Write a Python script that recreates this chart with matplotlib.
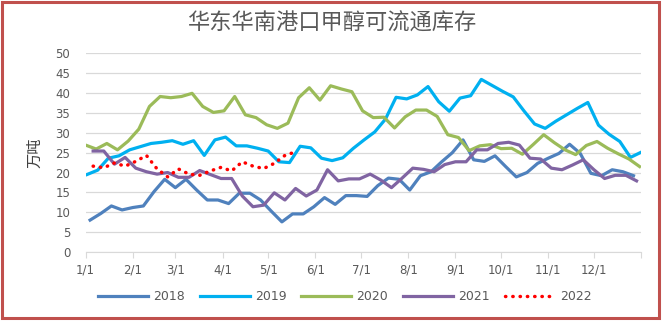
import numpy as np
import matplotlib.pyplot as plt
from matplotlib.patches import Rectangle

# weekly port inventory, 10k tons
y2018 = [8.05, 9.7, 11.6, 10.6, 11.2, 11.6, 15.2, 18.3, 16.2, 18.3,
         15.6, 13.1, 13.1, 12.2, 14.8, 14.8, 13.1, 10.3, 7.6, 9.6,
         9.6, 11.4, 13.7, 12.0, 14.2, 14.2, 14.0, 16.7, 18.6, 18.3,
         15.6, 19.2, 20.2, 22.7, 25.0, 28.2, 23.2, 22.8, 24.2, 21.5,
         18.9, 20.0, 22.3, 23.6, 24.8, 27.1, 24.8, 19.8, 19.2, 20.7,
         20.2, 19.2]
y2019 = [19.5, 20.6, 23.6, 24.2, 25.7, 26.5, 27.3, 27.6, 28.0, 27.1,
         28.0, 24.3, 28.2, 28.9, 26.7, 26.7, 26.1, 25.4, 22.7, 22.5,
         26.6, 26.2, 23.6, 23.0, 23.7, 26.1, 28.2, 30.2, 33.4, 38.9,
         38.5, 39.5, 41.6, 37.8, 35.4, 38.7, 39.3, 43.4, 41.9, 40.4,
         39.0, 35.5, 32.2, 31.1, 32.9, 34.5, 36.1, 37.6, 31.9, 29.6,
         27.8, 23.8, 25.1]
y2020 = [26.9, 25.9, 27.3, 25.7, 27.9, 30.9, 36.6, 39.1, 38.8, 39.1,
         39.9, 36.6, 35.1, 35.5, 39.1, 34.5, 33.8, 32.0, 31.1, 32.4,
         38.8, 41.3, 38.2, 41.8, 41.0, 40.3, 35.5, 33.8, 33.9, 31.2,
         34.0, 35.7, 35.7, 34.1, 29.5, 28.8, 25.5, 26.7, 27.0, 26.0,
         26.1, 24.6, 27.0, 29.5, 27.5, 25.7, 24.5, 26.8, 27.8, 26.1,
         24.7, 23.4, 21.5]
y2021 = [25.4, 25.4, 22.1, 23.8, 21.1, 20.2, 19.6, 20.0, 18.8, 18.8,
         20.5, 19.5, 18.5, 18.5, 14.1, 11.4, 11.8, 14.9, 13.1, 16.0,
         14.1, 15.6, 20.7, 17.9, 18.4, 18.4, 19.6, 18.1, 16.2, 18.6,
         21.1, 20.8, 20.2, 22.0, 22.7, 22.7, 25.7, 25.7, 27.3, 27.6,
         26.9, 23.6, 23.4, 21.1, 20.7, 21.9, 23.2, 20.7, 18.5, 19.3,
         19.3, 17.9]
y2022 = [21.6, 21.2, 22.4, 21.6, 22.8, 24.3, 20.9, 18.9, 20.9, 19.6,
         19.3, 20.4, 21.3, 20.4, 22.7, 21.6, 21.0, 22.3, 24.3, 25.2]

years = ['2018', '2019', '2020', '2021', '2022']
series = [y2018, y2019, y2020, y2021, y2022]
start_day = [3, 1, 0, 5, 5]   # day of year of first weekly reading
colors = ['#4F81BD', '#00B0F0', '#9BBB59', '#8064A2', '#FF0000']

month_days = [0, 31, 59, 90, 120, 151, 181, 212, 243, 273, 304, 334, 365]
month_labels = ['1/1', '2/1', '3/1', '4/1', '5/1', '6/1', '7/1', '8/1',
                '9/1', '10/1', '11/1', '12/1', '']

fig = plt.figure(figsize=(6.63, 3.22), dpi=100)
ax = fig.add_axes([0.129, 0.217, 0.838, 0.618])

for name, vals, d0, c in zip(years, series, start_day, colors):
    x = d0 + 7 * np.arange(len(vals))
    if name == '2022':
        ax.plot(x, vals, color=c, lw=2.5, linestyle=(0, (0.1, 2.0)),
                dash_capstyle='round', label=name)
    else:
        ax.plot(x, vals, color=c, lw=2.3, label=name)

ax.set_xlim(0, 365)
ax.set_ylim(0, 50)
ax.set_yticks(range(0, 51, 5))
ax.set_xticks(month_days)
ax.set_xticklabels(month_labels)
ax.grid(axis='y', color='#D9D9D9', lw=0.9)
ax.set_axisbelow(True)
for s in ['left', 'top', 'right']:
    ax.spines[s].set_visible(False)
ax.spines['bottom'].set_color('#D9D9D9')
ax.tick_params(axis='y', length=0, pad=11, labelsize=8.5, labelcolor='#595959')
ax.tick_params(axis='x', length=4, color='#D9D9D9', pad=4, labelsize=8.5,
               labelcolor='#595959')

fig.text(0.5, 0.929, '华东华南港口甲醇可流通库存', ha='center', va='center',
         fontsize=16, color='#595959', family='Noto Sans CJK SC')
fig.text(0.053, 0.525, '万吨', rotation=90, ha='center', va='center',
         fontsize=11, color='#404040', family='Noto Sans CJK SC')

leg = fig.legend(ncol=5, loc='center', bbox_to_anchor=(0.52, 0.078),
                 frameon=False, handlelength=4, columnspacing=1.2,
                 handletextpad=0.4, fontsize=9)
for t in leg.get_texts():
    t.set_color('#595959')

# chart border
fig.patches.append(Rectangle((0.0023, 0.0109), 0.9924, 0.9844,
                             transform=fig.transFigure, fill=False,
                             ec='#C0504D', lw=2.2))

fig.savefig('out.png', dpi=100)
